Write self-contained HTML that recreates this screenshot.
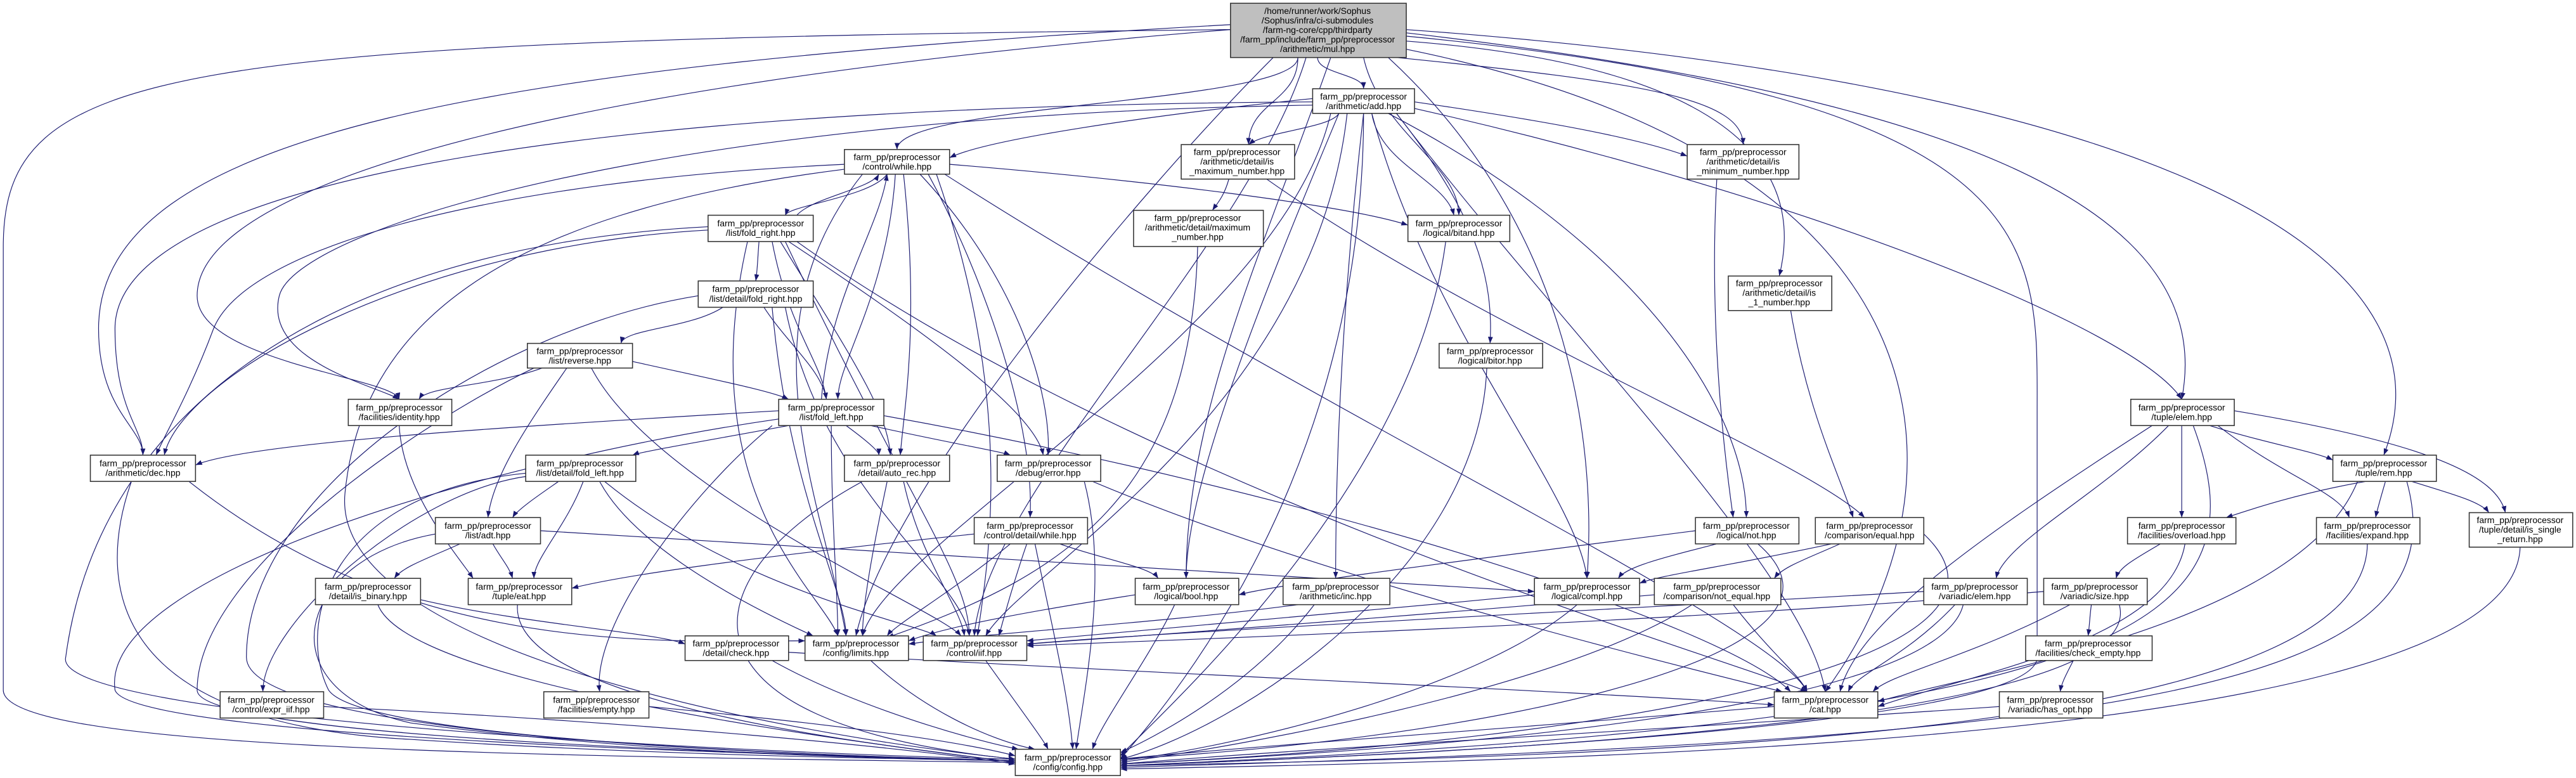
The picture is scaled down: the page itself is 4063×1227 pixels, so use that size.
<!DOCTYPE html>
<html><head><meta charset="utf-8"><style>
html,body{margin:0;padding:0;background:#fff;}
svg{display:block;}
.e path{fill:none;stroke:#191970;stroke-width:0.45;marker-end:url(#a);}
.n rect{fill:#fff;stroke:#333;stroke-width:0.6;}
.n rect.r{fill:#bfbfbf;}
text{font-family:"Liberation Sans",sans-serif;font-size:5.4px;fill:#000;text-anchor:middle;}
</style></head><body>
<svg width="4063" height="1227" viewBox="0 0 1568 473.5" preserveAspectRatio="none" xmlns="http://www.w3.org/2000/svg">
<defs><marker id="a" markerWidth="4" markerHeight="3" refX="4" refY="1.5" orient="auto" markerUnits="userSpaceOnUse"><path d="M0,0 L4,1.5 L0,3z" fill="#191970"/></marker></defs>
<g class="e">
<path d="M749,18 C100,25 2,40 2,150 L2,420 C2,455 300,460 618,464"/>
<path d="M749,15 C300,40 60,80 60,200 C60,250 87,260 87,277"/>
<path d="M749,18 C350,50 120,110 120,180 C120,220 240,230 243,243"/>
<path d="M790,35 C790,63 546,63 546,91"/>
<path d="M802,35 C802,45 830,45 830,54"/>
<path d="M790,35 C790,62 760,62 760,88"/>
<path d="M830,35 C840,80 888,100 888,131"/>
<path d="M850,35 C1000,50 1061,60 1061,88"/>
<path d="M856,25 C1050,40 1100,100 1083,168"/>
<path d="M856,20 C1200,60 1350,130 1328,243"/>
<path d="M856,18 C1300,50 1500,150 1451,277"/>
<path d="M775,35 C690,120 540,300 521,387"/>
<path d="M795,35 C760,150 600,300 593,387"/>
<path d="M845,35 C970,150 970,300 966,352"/>
<path d="M810,35 C770,150 722,250 722,352"/>
<path d="M856,30 C1200,100 1200,300 1111,421"/>
<path d="M856,22 C1250,60 1240,150 1240,250 L1240,400 C1240,440 900,458 682,466"/>
<path d="M799,60 C700,70 600,85 578,96"/>
<path d="M815,69 C810,78 770,80 760,88"/>
<path d="M861,62 C950,75 1000,85 1027,95"/>
<path d="M835,69 C840,100 880,110 885,131"/>
<path d="M850,69 C890,120 910,160 907,209"/>
<path d="M799,62 C300,65 70,120 70,200 C70,250 87,260 87,277"/>
<path d="M799,64 C400,70 180,140 170,180 C160,220 230,235 243,243"/>
<path d="M835,69 C870,200 960,300 966,352"/>
<path d="M815,69 C760,200 722,300 722,352"/>
<path d="M830,69 C815,200 813,300 813,352"/>
<path d="M845,69 C1000,150 1063,250 1063,315"/>
<path d="M830,69 C830,300 700,440 682,462"/>
<path d="M861,66 C1100,120 1300,200 1328,243"/>
<path d="M820,69 C800,250 620,350 600,387"/>
<path d="M810,69 C780,200 540,330 525,387"/>
<path d="M850,69 C950,200 1100,350 1111,421"/>
<path d="M540,106 C530,120 480,125 478,131"/>
<path d="M485,131 C495,120 530,115 535,106"/>
<path d="M545,106 C540,180 510,220 510,243"/>
<path d="M500,243 C505,180 535,140 540,106"/>
<path d="M550,106 C560,200 550,250 548,277"/>
<path d="M560,106 C620,170 640,240 638,277"/>
<path d="M565,106 C600,170 630,260 627,315"/>
<path d="M578,100 C700,110 820,125 857,137"/>
<path d="M514,100 C300,110 150,150 130,200 C115,240 100,265 95,277"/>
<path d="M525,106 C450,200 500,300 515,387"/>
<path d="M570,106 C620,250 600,350 595,387"/>
<path d="M514,103 C300,130 220,200 210,300 C200,400 500,450 618,462"/>
<path d="M575,106 C800,250 1080,380 1100,421"/>
<path d="M462,147 C461,160 461,165 460,171"/>
<path d="M470,147 C480,200 500,220 503,243"/>
<path d="M431,140 C250,150 110,230 100,277"/>
<path d="M475,147 C520,220 540,250 542,277"/>
<path d="M480,147 C560,200 630,250 635,277"/>
<path d="M455,147 C420,300 500,360 510,387"/>
<path d="M431,138 C200,150 60,250 40,400 C30,440 500,460 618,462"/>
<path d="M485,147 C700,300 1050,400 1100,421"/>
<path d="M478,147 C550,300 590,350 590,387"/>
<path d="M440,187 C420,200 380,200 378,209"/>
<path d="M465,187 C480,210 500,225 503,243"/>
<path d="M425,180 C300,200 150,300 150,400 C150,450 500,460 618,463"/>
<path d="M470,187 C480,300 515,360 515,387"/>
<path d="M478,187 C500,300 585,350 590,387"/>
<path d="M330,224 C300,235 260,235 255,243"/>
<path d="M385,220 C430,230 470,238 480,243"/>
<path d="M345,224 C320,260 300,290 297,315"/>
<path d="M325,224 C250,260 120,350 120,420 C120,450 500,460 618,463"/>
<path d="M360,224 C400,300 570,370 585,387"/>
<path d="M474,250 C300,260 150,270 119,283"/>
<path d="M480,259 C420,270 390,275 385,277"/>
<path d="M515,259 C530,270 535,275 535,277"/>
<path d="M530,259 C580,270 610,275 615,277"/>
<path d="M506,259 C506,320 510,360 510,387"/>
<path d="M538,253 C800,300 1050,380 1090,421"/>
<path d="M474,255 C300,280 60,350 70,420 C80,450 500,460 618,463"/>
<path d="M470,259 C420,300 360,380 365,421"/>
<path d="M340,293 C330,300 315,310 312,315"/>
<path d="M355,293 C345,320 325,340 325,352"/>
<path d="M365,293 C390,340 480,380 495,387"/>
<path d="M368,293 C450,360 560,380 570,387"/>
<path d="M320,288 C200,300 180,380 200,420 C220,450 500,460 618,463"/>
<path d="M320,290 C250,300 160,380 160,421"/>
<path d="M280,331 C260,340 245,345 240,352"/>
<path d="M300,331 C305,340 310,345 312,352"/>
<path d="M329,323 C600,340 850,355 934,360"/>
<path d="M265,325 C180,340 160,420 250,440 C400,460 560,462 618,463"/>
<path d="M256,365 C320,380 400,385 417,392"/>
<path d="M230,368 C250,420 550,455 618,464"/>
<path d="M315,368 C310,430 550,455 618,464"/>
<path d="M243,259 C245,300 280,340 288,352"/>
<path d="M80,293 C60,350 60,440 250,450 C400,460 560,462 618,463"/>
<path d="M115,293 C250,400 400,390 490,390"/>
<path d="M540,293 C530,340 525,370 525,387"/>
<path d="M550,293 C560,340 585,370 587,387"/>
<path d="M525,293 C420,350 400,440 618,462"/>
<path d="M660,293 C675,350 660,420 655,456"/>
<path d="M665,293 C800,350 1000,400 1085,421"/>
<path d="M593,325 C450,340 380,350 348,358"/>
<path d="M645,331 C670,340 700,345 705,352"/>
<path d="M615,331 C580,360 545,380 540,387"/>
<path d="M625,331 C615,360 610,380 608,387"/>
<path d="M630,331 C640,380 650,420 653,456"/>
<path d="M691,362 C640,370 580,380 553,390"/>
<path d="M715,368 C700,400 670,440 665,456"/>
<path d="M480,397 C700,410 950,420 1080,429"/>
<path d="M470,402 C520,430 590,450 620,456"/>
<path d="M530,402 C560,430 600,450 630,456"/>
<path d="M600,402 C620,430 635,450 638,456"/>
<path d="M197,430 C400,440 550,455 618,465"/>
<path d="M395,430 C500,440 580,450 618,460"/>
<path d="M748,109 C745,120 740,125 738,128"/>
<path d="M771,109 C900,200 1100,280 1135,315"/>
<path d="M729,150 C725,300 650,350 540,388"/>
<path d="M880,147 C860,300 700,440 682,460"/>
<path d="M905,224 C900,350 750,445 682,462"/>
<path d="M1045,109 C1040,200 1050,280 1055,315"/>
<path d="M1090,189 C1100,250 1120,290 1128,315"/>
<path d="M1032,323 C900,340 780,355 754,362"/>
<path d="M1045,331 C1010,340 990,345 985,352"/>
<path d="M1070,331 C1150,400 900,450 682,462"/>
<path d="M1115,331 C1050,345 1010,350 998,355"/>
<path d="M1120,331 C1100,340 1085,345 1080,352"/>
<path d="M1171,325 C1250,400 1000,450 682,465"/>
<path d="M1055,368 C1080,400 1095,410 1100,421"/>
<path d="M1007,362 C800,380 650,390 625,392"/>
<path d="M1030,368 C950,420 750,455 682,464"/>
<path d="M934,362 C800,375 650,388 625,390"/>
<path d="M960,368 C900,420 750,455 682,463"/>
<path d="M790,368 C700,380 600,385 553,392"/>
<path d="M800,368 C760,420 700,450 682,458"/>
<path d="M1345,259 C1380,270 1410,275 1420,280"/>
<path d="M1328,259 C1328,290 1328,305 1328,315"/>
<path d="M1350,259 C1390,290 1425,300 1430,315"/>
<path d="M1360,250 C1480,270 1520,290 1525,312"/>
<path d="M1320,259 C1280,300 1220,330 1215,352"/>
<path d="M1310,259 C1200,330 1130,380 1120,421"/>
<path d="M1335,259 C1380,380 1300,440 682,466"/>
<path d="M1440,293 C1400,300 1370,310 1355,315"/>
<path d="M1452,293 C1450,300 1447,310 1446,315"/>
<path d="M1468,293 C1490,300 1510,305 1515,312"/>
<path d="M1435,293 C1400,380 1200,410 1143,427"/>
<path d="M1465,293 C1500,420 1300,450 682,467"/>
<path d="M1315,331 C1300,340 1290,345 1288,352"/>
<path d="M1330,331 C1320,390 1200,410 1143,430"/>
<path d="M1441,331 C1440,450 1000,460 682,466"/>
<path d="M1534,333 C1530,450 1000,462 682,468"/>
<path d="M1190,368 C1160,400 1130,410 1125,421"/>
<path d="M1195,368 C1180,430 900,455 682,465"/>
<path d="M1171,360 C1000,370 700,385 625,392"/>
<path d="M1273,368 C1272,375 1272,380 1271,387"/>
<path d="M1260,368 C1200,400 1150,410 1140,421"/>
<path d="M1244,360 C1000,380 700,390 625,393"/>
<path d="M1290,368 C1310,440 900,458 682,466"/>
<path d="M1262,402 C1258,410 1255,415 1254,421"/>
<path d="M1217,430 C1000,445 800,455 682,465"/>
<path d="M1080,430 C900,445 750,455 682,462"/>
</g>
<g class="n">
<rect class="r" x="749" y="2" width="107" height="33"/>
<text x="802" y="8.5">/home/runner/work/Sophus</text>
<text x="802" y="14.3">/Sophus/infra/ci-submodules</text>
<text x="802" y="20.1">/farm-ng-core/cpp/thirdparty</text>
<text x="802" y="25.9">/farm_pp/include/farm_pp/preprocessor</text>
<text x="802" y="31.7">/arithmetic/mul.hpp</text>

<rect x="799" y="54" width="62" height="15"/><text x="830" y="60.5">farm_pp/preprocessor</text><text x="830" y="66.3">/arithmetic/add.hpp</text>
<rect x="514" y="91" width="64" height="15"/><text x="546" y="97.5">farm_pp/preprocessor</text><text x="546" y="103.3">/control/while.hpp</text>
<rect x="719" y="88" width="69" height="21"/><text x="753" y="94.3">farm_pp/preprocessor</text><text x="753" y="100.1">/arithmetic/detail/is</text><text x="753" y="105.9">_maximum_number.hpp</text>
<rect x="1027" y="88" width="68" height="21"/><text x="1061" y="94.3">farm_pp/preprocessor</text><text x="1061" y="100.1">/arithmetic/detail/is</text><text x="1061" y="105.9">_minimum_number.hpp</text>
<rect x="431" y="131" width="64" height="16"/><text x="463" y="137.8">farm_pp/preprocessor</text><text x="463" y="143.6">/list/fold_right.hpp</text>
<rect x="690" y="128" width="79" height="22"/><text x="729" y="134.5">farm_pp/preprocessor</text><text x="729" y="140.3">/arithmetic/detail/maximum</text><text x="729" y="146.1">_number.hpp</text>
<rect x="857" y="131" width="62" height="16"/><text x="888" y="137.8">farm_pp/preprocessor</text><text x="888" y="143.6">/logical/bitand.hpp</text>
<rect x="425" y="171" width="70" height="16"/><text x="460" y="177.8">farm_pp/preprocessor</text><text x="460" y="183.6">/list/detail/fold_right.hpp</text>
<rect x="1052" y="168" width="63" height="21"/><text x="1083" y="174.3">farm_pp/preprocessor</text><text x="1083" y="180.1">/arithmetic/detail/is</text><text x="1083" y="185.9">_1_number.hpp</text>
<rect x="321" y="209" width="64" height="15"/><text x="353" y="215.5">farm_pp/preprocessor</text><text x="353" y="221.3">/list/reverse.hpp</text>
<rect x="876" y="209" width="63" height="15"/><text x="907" y="215.5">farm_pp/preprocessor</text><text x="907" y="221.3">/logical/bitor.hpp</text>
<rect x="212" y="243" width="63" height="16"/><text x="243" y="249.8">farm_pp/preprocessor</text><text x="243" y="255.6">/facilities/identity.hpp</text>
<rect x="474" y="243" width="64" height="16"/><text x="506" y="249.8">farm_pp/preprocessor</text><text x="506" y="255.6">/list/fold_left.hpp</text>
<rect x="1297" y="243" width="63" height="16"/><text x="1328" y="249.8">farm_pp/preprocessor</text><text x="1328" y="255.6">/tuple/elem.hpp</text>
<rect x="55" y="277" width="64" height="16"/><text x="87" y="283.8">farm_pp/preprocessor</text><text x="87" y="289.6">/arithmetic/dec.hpp</text>
<rect x="320" y="277" width="67" height="16"/><text x="353" y="283.8">farm_pp/preprocessor</text><text x="353" y="289.6">/list/detail/fold_left.hpp</text>
<rect x="514" y="277" width="64" height="16"/><text x="546" y="283.8">farm_pp/preprocessor</text><text x="546" y="289.6">/detail/auto_rec.hpp</text>
<rect x="607" y="277" width="63" height="16"/><text x="638" y="283.8">farm_pp/preprocessor</text><text x="638" y="289.6">/debug/error.hpp</text>
<rect x="1420" y="277" width="63" height="16"/><text x="1451" y="283.8">farm_pp/preprocessor</text><text x="1451" y="289.6">/tuple/rem.hpp</text>
<rect x="265" y="315" width="64" height="16"/><text x="297" y="321.8">farm_pp/preprocessor</text><text x="297" y="327.6">/list/adt.hpp</text>
<rect x="593" y="315" width="69" height="16"/><text x="627" y="321.8">farm_pp/preprocessor</text><text x="627" y="327.6">/control/detail/while.hpp</text>
<rect x="1032" y="315" width="63" height="16"/><text x="1063" y="321.8">farm_pp/preprocessor</text><text x="1063" y="327.6">/logical/not.hpp</text>
<rect x="1105" y="315" width="66" height="16"/><text x="1138" y="321.8">farm_pp/preprocessor</text><text x="1138" y="327.6">/comparison/equal.hpp</text>
<rect x="1295" y="315" width="66" height="16"/><text x="1328" y="321.8">farm_pp/preprocessor</text><text x="1328" y="327.6">/facilities/overload.hpp</text>
<rect x="1410" y="315" width="63" height="16"/><text x="1441" y="321.8">farm_pp/preprocessor</text><text x="1441" y="327.6">/facilities/expand.hpp</text>
<rect x="1503" y="312" width="63" height="21"/><text x="1534" y="318.3">farm_pp/preprocessor</text><text x="1534" y="324.1">/tuple/detail/is_single</text><text x="1534" y="329.9">_return.hpp</text>
<rect x="192" y="352" width="64" height="16"/><text x="224" y="358.8">farm_pp/preprocessor</text><text x="224" y="364.6">/detail/is_binary.hpp</text>
<rect x="285" y="352" width="63" height="16"/><text x="316" y="358.8">farm_pp/preprocessor</text><text x="316" y="364.6">/tuple/eat.hpp</text>
<rect x="691" y="352" width="63" height="16"/><text x="722" y="358.8">farm_pp/preprocessor</text><text x="722" y="364.6">/logical/bool.hpp</text>
<rect x="781" y="352" width="65" height="16"/><text x="813" y="358.8">farm_pp/preprocessor</text><text x="813" y="364.6">/arithmetic/inc.hpp</text>
<rect x="934" y="352" width="64" height="16"/><text x="966" y="358.8">farm_pp/preprocessor</text><text x="966" y="364.6">/logical/compl.hpp</text>
<rect x="1007" y="352" width="77" height="16"/><text x="1045" y="358.8">farm_pp/preprocessor</text><text x="1045" y="364.6">/comparison/not_equal.hpp</text>
<rect x="1171" y="352" width="63" height="16"/><text x="1202" y="358.8">farm_pp/preprocessor</text><text x="1202" y="364.6">/variadic/elem.hpp</text>
<rect x="1244" y="352" width="63" height="16"/><text x="1275" y="358.8">farm_pp/preprocessor</text><text x="1275" y="364.6">/variadic/size.hpp</text>
<rect x="417" y="387" width="63" height="15"/><text x="448" y="393.5">farm_pp/preprocessor</text><text x="448" y="399.3">/detail/check.hpp</text>
<rect x="490" y="387" width="63" height="15"/><text x="521" y="393.5">farm_pp/preprocessor</text><text x="521" y="399.3">/config/limits.hpp</text>
<rect x="562" y="387" width="63" height="15"/><text x="593" y="393.5">farm_pp/preprocessor</text><text x="593" y="399.3">/control/iif.hpp</text>
<rect x="1233" y="387" width="77" height="15"/><text x="1271" y="393.5">farm_pp/preprocessor</text><text x="1271" y="399.3">/facilities/check_empty.hpp</text>
<rect x="134" y="421" width="63" height="16"/><text x="165" y="427.8">farm_pp/preprocessor</text><text x="165" y="433.6">/control/expr_iif.hpp</text>
<rect x="331" y="421" width="64" height="16"/><text x="363" y="427.8">farm_pp/preprocessor</text><text x="363" y="433.6">/facilities/empty.hpp</text>
<rect x="1080" y="421" width="63" height="16"/><text x="1111" y="427.8">farm_pp/preprocessor</text><text x="1111" y="433.6">/cat.hpp</text>
<rect x="1217" y="421" width="63" height="16"/><text x="1248" y="427.8">farm_pp/preprocessor</text><text x="1248" y="433.6">/variadic/has_opt.hpp</text>
<rect x="618" y="456" width="64" height="16"/><text x="650" y="462.8">farm_pp/preprocessor</text><text x="650" y="468.6">/config/config.hpp</text>
</g>
</svg>
</body></html>
